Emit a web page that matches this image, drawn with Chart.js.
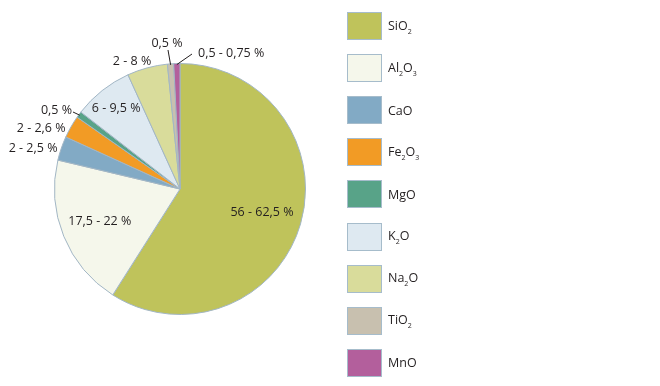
<!DOCTYPE html>
<html>
<head>
<meta charset="utf-8">
<script src="https://cdn.jsdelivr.net/npm/chart.js@4"></script>
<style>
  body { margin: 0; background: #fff; width: 660px; height: 386px; overflow: hidden; font-family: "Open Sans", sans-serif; }
  #wrap { position: absolute; left: 0; top: 0; width: 360px; height: 378px; }
  #legend { position: absolute; left: 347px; top: 12px; }
  .item { display: flex; align-items: center; height: 42.1px; }
  .item .box { width: 33px; height: 26px; border: 1.5px solid #a6bccb; margin-top: -14px; }
  .item .txt { margin-left: 6px; margin-top: -14px; font-size: 12.5px; color: #231f20; }
  .item sub { font-size: 7px; vertical-align: -4px; }
</style>
</head>
<body>
<div id="wrap"><canvas id="myChart"></canvas></div>
<div id="legend"></div>
<script>
// oxides in clay, share by mass
const categories = ['SiO2', 'Al2O3', 'CaO', 'Fe2O3', 'MgO', 'K2O', 'Na2O', 'TiO2', 'MnO'];
const values = [59, 19.7, 3.1, 2.9, 0.8, 7.7, 5.2, 0.8, 0.8];
const rangeLabels = ['56 - 62,5 %', '17,5 - 22 %', '2 - 2,5 %', '2 - 2,6 %', '0,5 %', '6 - 9,5 %', '2 - 8 %', '0,5 %', '0,5 - 0,75 %'];
const colors = ['#bfc35b', '#f5f7eb', '#82aac5', '#f29b25', '#58a388', '#dee9f1', '#d9dc9b', '#c8c0af', '#b35f9c'];

// where each label goes (layout only)
const placement = [
  { mode: 'in', f: 0.68, dx: 0, dy: 0 },
  { mode: 'in', f: 0.69, dx: 0, dy: 0 },
  { mode: 'out', gap: 4, dx: 0, dy: 1 },
  { mode: 'out', gap: 4, dx: -2, dy: 4 },
  { mode: 'lead', tx: 72, ty: 110, lx: 73, ly: 112, align: 'right' },
  { mode: 'in', f: 0.82, dx: 0, dy: 0 },
  { mode: 'out', gap: 4, dx: 5, dy: -3 },
  { mode: 'lead', tx: 167, ty: 43, lx: 168, ly: 50, align: 'center' },
  { mode: 'lead', tx: 198, ty: 53, lx: 192, ly: 54, align: 'left' }
];

const labelPlugin = {
  id: 'rangeLabels',
  afterDraw(chart) {
    const ctx = chart.ctx;
    const arcs = chart.getDatasetMeta(0).data;
    ctx.save();
    ctx.font = '12.5px "Open Sans", sans-serif';
    ctx.fillStyle = '#231f20';
    ctx.strokeStyle = '#231f20';
    ctx.lineWidth = 1;
    ctx.textBaseline = 'middle';
    arcs.forEach((arc, i) => {
      const p = arc.getProps(['x', 'y', 'startAngle', 'endAngle', 'outerRadius'], true);
      const mid = (p.startAngle + p.endAngle) / 2;
      const pl = placement[i];
      if (pl.mode === 'in') {
        const r = p.outerRadius * pl.f;
        ctx.textAlign = 'center';
        ctx.fillText(rangeLabels[i], p.x + Math.cos(mid) * r + pl.dx, p.y + Math.sin(mid) * r + pl.dy);
      } else if (pl.mode === 'out') {
        const r = p.outerRadius + pl.gap;
        ctx.textAlign = 'right';
        ctx.fillText(rangeLabels[i], p.x + Math.cos(mid) * r + pl.dx, p.y + Math.sin(mid) * r + pl.dy);
      } else {
        const ex = p.x + Math.cos(mid) * (p.outerRadius - 1);
        const ey = p.y + Math.sin(mid) * (p.outerRadius - 1);
        ctx.beginPath();
        ctx.moveTo(ex, ey);
        ctx.lineTo(pl.lx, pl.ly);
        ctx.stroke();
        ctx.textAlign = pl.align;
        ctx.fillText(rangeLabels[i], pl.tx, pl.ty);
      }
    });
    ctx.restore();
  }
};

const data = {
  labels: categories,
  datasets: [{
    data: values,
    backgroundColor: colors,
    borderColor: '#a2b6c5',
    borderWidth: 1
  }]
};

const config = {
  type: 'pie',
  data: data,
  options: {
    responsive: true,
    maintainAspectRatio: false,
    animation: false,
    layout: { padding: { top: 63, bottom: 63, left: 54, right: 54 } },
    plugins: {
      legend: { display: false },
      tooltip: { enabled: false }
    }
  },
  plugins: [labelPlugin]
};

const myChart = new Chart(document.getElementById('myChart'), config);

// legend with subscripts
const legend = document.getElementById('legend');
categories.forEach((name, i) => {
  const item = document.createElement('div');
  item.className = 'item';
  const box = document.createElement('div');
  box.className = 'box';
  box.style.background = colors[i];
  const txt = document.createElement('div');
  txt.className = 'txt';
  txt.innerHTML = name.replace(/(\d)/g, '<sub>$1</sub>');
  item.appendChild(box);
  item.appendChild(txt);
  legend.appendChild(item);
});
</script>
</body>
</html>
